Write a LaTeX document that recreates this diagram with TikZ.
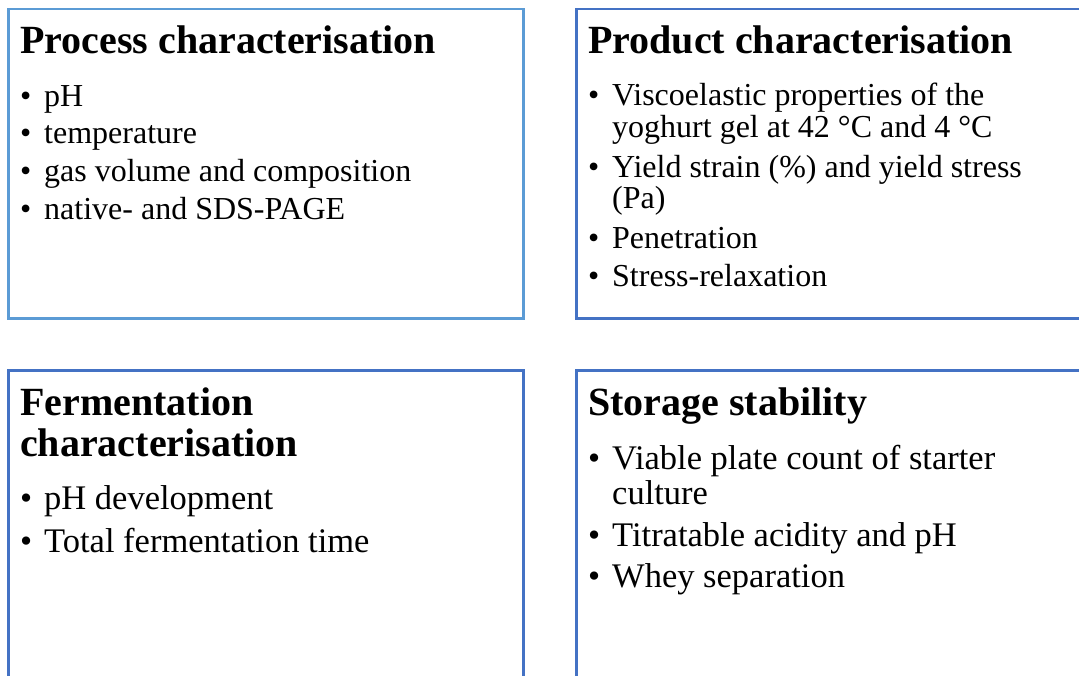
\documentclass[tikz,border=0pt]{standalone}
\usepackage{fontspec}
\setmainfont{Liberation Serif}
\definecolor{lightblue}{HTML}{5B9BD5}
\definecolor{darkblue}{HTML}{4472C4}
\tikzset{
  panel/.style={draw=darkblue, line width=2.5pt, fill=none},
  lightpanel/.style={panel, draw=lightblue},
  ttl/.style={anchor=base west, inner sep=0pt, font=\fontsize{40}{40}\selectfont\bfseries},
  itm/.style={anchor=base west, inner sep=0pt, font=\fontsize{32}{32}\selectfont},
  itmb/.style={anchor=base west, inner sep=0pt, font=\fontsize{34.5}{34.5}\selectfont},
}
\begin{document}
\begin{tikzpicture}[x=1pt,y=-1pt]
\useasboundingbox (0,0) rectangle (1079,675);
\clip (0,0) rectangle (1079,675);
% boxes
\draw[lightpanel] (8.5,9) rectangle (523.5,318.5);
\draw[panel] (576.5,9) rectangle (1095,318.5);
\draw[panel] (8.5,370.5) rectangle (523.5,690);
\draw[panel] (576.5,370.5) rectangle (1095,690);
% top-left
\node[ttl] (t1) at (20,53) {Process characterisation};
\node[itm] (b11) at (20,106) {•};
\node[itm] (i11) at (44,106) {pH};
\node[itm] (b12) at (20,143) {•};
\node[itm] (i12) at (44,143) {temperature};
\node[itm] (b13) at (20,181) {•};
\node[itm] (i13) at (44,181) {gas volume and composition};
\node[itm] (b14) at (20,219) {•};
\node[itm] (i14) at (44,219) {native- and SDS-PAGE};
% top-right
\node[ttl] (t2) at (588,53) {Product characterisation};
\node[itm] (b21) at (588,105) {•};
\node[itm] (i21) at (612,105) {Viscoelastic properties of the};
\node[itm] (i21b) at (612,137) {yoghurt gel at 42 °C and 4 °C};
\node[itm] (b22) at (588,177) {•};
\node[itm] (i22) at (612,177) {Yield strain (\%) and yield stress};
\node[itm] (i22b) at (612,208) {(Pa)};
\node[itm] (b23) at (588,248) {•};
\node[itm] (i23) at (612,248) {Penetration};
\node[itm] (b24) at (588,286) {•};
\node[itm] (i24) at (612,286) {Stress-relaxation};
% bottom-left
\node[ttl] (t3) at (20,415) {Fermentation};
\node[ttl] (t3b) at (20,456) {characterisation};
\node[itmb] (b31) at (20,509) {•};
\node[itmb] (i31) at (44,509) {pH development};
\node[itmb] (b32) at (20,552) {•};
\node[itmb] (i32) at (44,552) {Total fermentation time};
% bottom-right
\node[ttl] (t4) at (588,415) {Storage stability};
\node[itmb] (b41) at (588,469) {•};
\node[itmb] (i41) at (612,469) {Viable plate count of starter};
\node[itmb] (i41b) at (612,504) {culture};
\node[itmb] (b42) at (588,546) {•};
\node[itmb] (i42) at (612,546) {Titratable acidity and pH};
\node[itmb] (b43) at (588,587) {•};
\node[itmb] (i43) at (612,587) {Whey separation};
\end{tikzpicture}
\end{document}
